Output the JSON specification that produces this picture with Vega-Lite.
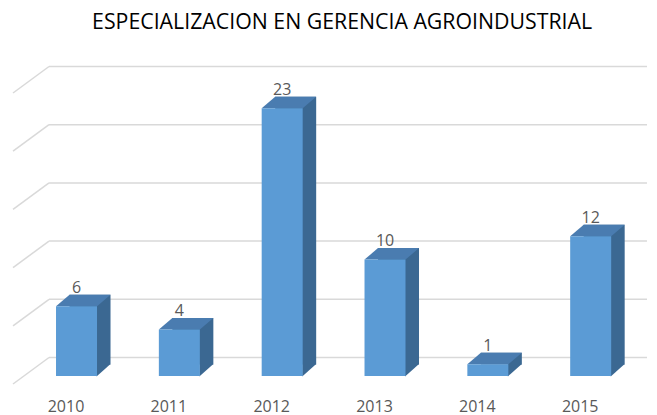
{
  "$schema": "https://vega.github.io/schema/vega-lite/v6.json",
  "width": 617,
  "height": 291,
  "autosize": {"type": "none"},
  "padding": {"left": 14.6, "top": 85, "right": 25.4, "bottom": 39},
  "background": "white",
  "config": {"view": {"stroke": null}, "font": "Open Sans"},
  "title": {
    "text": "ESPECIALIZACION EN GERENCIA AGROINDUSTRIAL",
    "frame": "group",
    "anchor": "middle",
    "dx": 19,
    "offset": 15,
    "fontSize": 21.3,
    "fontWeight": "normal",
    "color": "#000000",
    "font": "Open Sans",
    "baseline": "alphabetic"
  },
  "datasets": {
    "bars": [
      {"year": "2010", "value": 6},
      {"year": "2011", "value": 4},
      {"year": "2012", "value": 23},
      {"year": "2013", "value": 10},
      {"year": "2014", "value": 1},
      {"year": "2015", "value": 12}
    ],
    "grid": [
      {"level": 0},
      {"level": 5},
      {"level": 10},
      {"level": 15},
      {"level": 20},
      {"level": 25}
    ]
  },
  "layer": [
    {
      "data": {"name": "grid"},
      "mark": {"type": "rule", "color": "#D9D9D9", "strokeWidth": 1.5, "xOffset": -17, "x2Offset": 66.8, "yOffset": -18.5, "y2Offset": -18.5},
      "encoding": {
        "x": {"datum": "2010", "type": "nominal", "scale": {"domain": ["2010", "2011", "2012", "2013", "2014", "2015"], "paddingInner": 0, "paddingOuter": 0}, "axis": {"title": null, "domain": false, "ticks": false, "tickSize": 0, "grid": false, "labelPadding": 22, "labelFontSize": 16, "labelColor": "#595959", "labelFont": "Open Sans", "labelAngle": 0}},
        "x2": {"datum": "2015"},
        "y": {"field": "level", "type": "quantitative", "scale": {"domain": [0, 25], "nice": false}, "axis": null},
        "y2": {"field": "level"}
      }
    },
    {
      "data": {"name": "grid"},
      "mark": {"type": "rule", "color": "#D9D9D9", "strokeWidth": 1.5, "xOffset": -53, "x2Offset": -17, "yOffset": 8, "y2Offset": -18.5},
      "encoding": {
        "x": {"datum": "2010", "type": "nominal"},
        "x2": {"datum": "2010"},
        "y": {"field": "level", "type": "quantitative"},
        "y2": {"field": "level"}
      }
    },
    {
      "data": {"name": "bars"},
      "mark": {"type": "bar", "width": 41, "xOffset": 24, "yOffset": -11.5, "y2Offset": -11.5, "color": "#3B6892"},
      "encoding": {
        "x": {"field": "year", "type": "nominal"},
        "y": {"field": "value", "type": "quantitative"},
        "y2": {"datum": 0}
      }
    },
    {
      "data": {"name": "bars"},
      "mark": {"type": "point", "shape": "M 20 0.5 L 20 -12 L 34 -12 Z", "size": 4, "filled": true, "opacity": 1, "fill": "#3B6892", "strokeWidth": 0, "xOffset": 10.5},
      "encoding": {
        "x": {"field": "year", "type": "nominal"},
        "y": {"datum": 0, "type": "quantitative"}
      }
    },
    {
      "data": {"name": "bars"},
      "mark": {"type": "point", "shape": "M -20.5 0 L 20.5 0 L 34 -11.5 L -7 -11.5 Z", "size": 4, "filled": true, "opacity": 1, "fill": "#4A7CB0", "strokeWidth": 0, "xOffset": 10.5},
      "encoding": {
        "x": {"field": "year", "type": "nominal"},
        "y": {"field": "value", "type": "quantitative"}
      }
    },
    {
      "data": {"name": "bars"},
      "mark": {"type": "bar", "width": 41, "xOffset": 10.5, "color": "#5B9BD5"},
      "encoding": {
        "x": {"field": "year", "type": "nominal"},
        "y": {"field": "value", "type": "quantitative"},
        "y2": {"datum": 0}
      }
    },
    {
      "data": {"name": "bars"},
      "mark": {"type": "text", "xOffset": 10.5, "yOffset": -13.5, "baseline": "alphabetic", "fontSize": 16, "color": "#595959", "font": "Open Sans"},
      "encoding": {
        "x": {"field": "year", "type": "nominal"},
        "y": {"field": "value", "type": "quantitative"},
        "text": {"field": "value", "type": "quantitative"}
      }
    }
  ]
}
